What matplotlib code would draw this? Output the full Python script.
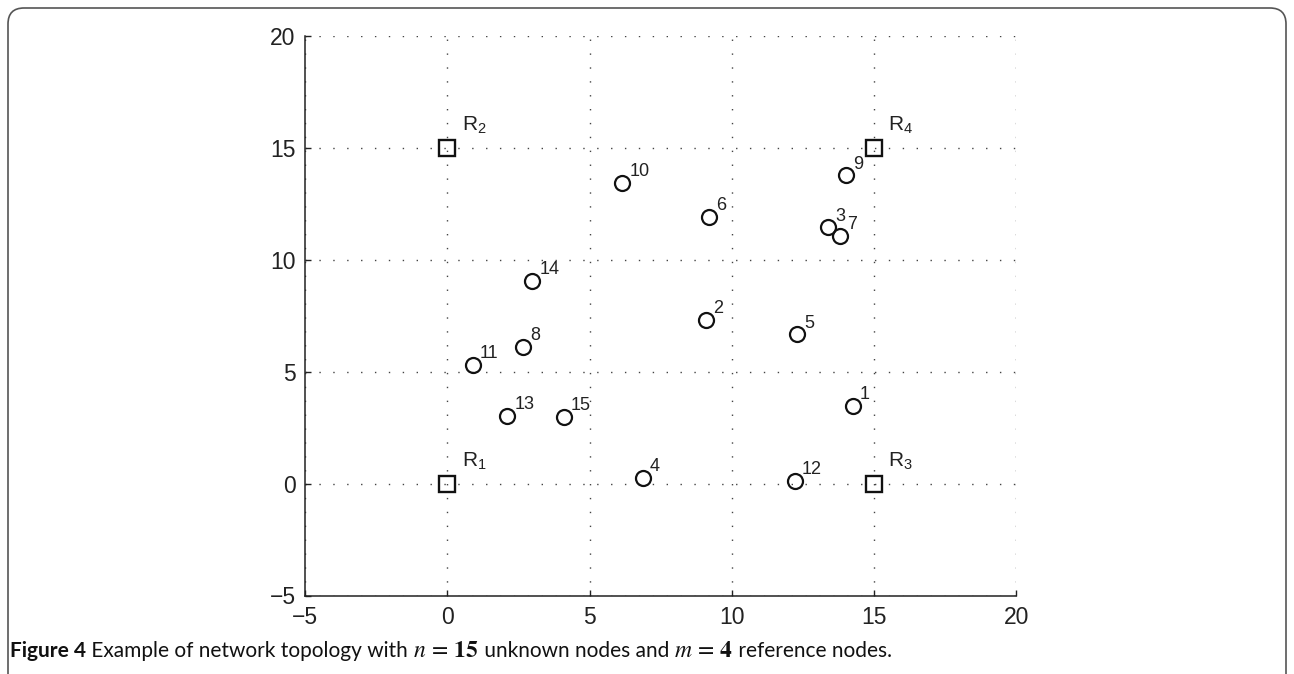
import matplotlib
matplotlib.use("Agg")
import matplotlib.pyplot as plt
from matplotlib.patches import FancyBboxPatch

# Unknown node coordinates (node id -> x, y)
node_ids = [1, 2, 3, 4, 5, 6, 7, 8, 9, 10, 11, 12, 13, 14, 15]
node_x = [14.26, 9.10, 13.38, 6.87, 12.29, 9.20, 13.82, 2.65, 14.02, 6.14, 0.88, 12.21, 2.10, 2.98, 4.09]
node_y = [3.46, 7.30, 11.44, 0.25, 6.67, 11.90, 11.05, 6.11, 13.77, 13.42, 5.29, 0.12, 3.02, 9.04, 2.98]

# Reference (anchor) nodes
ref_ids = [1, 2, 3, 4]
ref_x = [0, 0, 15, 15]
ref_y = [0, 15, 0, 15]

x_ticks = [-5, 0, 5, 10, 15, 20]
y_ticks = [-5, 0, 5, 10, 15, 20]

plt.rcParams["mathtext.fontset"] = "stix"

W, H = 1294, 674
fig = plt.figure(figsize=(W / 100, H / 100), dpi=100)

# Page frame with rounded corners
frame_ax = fig.add_axes([0, 0, 1, 1], zorder=-10)
frame_ax.set_xlim(0, W)
frame_ax.set_ylim(H, 0)
frame_ax.axis("off")
frame_ax.add_patch(FancyBboxPatch((8, 8), W - 16, H + 40,
                                  boxstyle="round,pad=0,rounding_size=16",
                                  fc="white", ec="#555555", lw=1.2))

ax = fig.add_axes([305.3 / W, 1 - 595.5 / H, (1016.2 - 305.3) / W, (595.5 - 35.8) / H])
ax.set_facecolor("none")
ax.set_xlim(-5, 20)
ax.set_ylim(-5, 20)
ax.set_xticks(x_ticks)
ax.set_yticks(y_ticks)
ax.set_xticklabels(["\u22125" if v < 0 else str(v) for v in x_ticks])
ax.set_yticklabels(["\u22125" if v < 0 else str(v) for v in y_ticks])

for s in ("top", "right"):
    ax.spines[s].set_visible(False)
for s in ("left", "bottom"):
    ax.spines[s].set_linewidth(1.1)
    ax.spines[s].set_color("#222222")

ax.tick_params(axis="both", direction="in", length=4, width=1.0, color="#222222",
               labelsize=16.5, labelcolor="#222222")
ax.tick_params(axis="x", pad=7.5)
ax.tick_params(axis="y", pad=7)
for lbl in ax.get_xticklabels() + ax.get_yticklabels():
    lbl.set_fontfamily("Liberation Sans")

ax.grid(True, linestyle=(0, (1, 9)), linewidth=1.0, color="#444444")

# Unknown nodes
ax.plot(node_x, node_y, linestyle="none", marker="o", markersize=10.8,
        markerfacecolor="none", markeredgecolor="#111111", markeredgewidth=1.6, zorder=3)
for i, x, y in zip(node_ids, node_x, node_y):
    ax.text(x + 0.25, y + 0.5, str(i), ha="left", va="center", fontsize=13,
            family="Liberation Sans", color="#222222", zorder=4)

# Reference nodes
ax.plot(ref_x, ref_y, linestyle="none", marker="s", markersize=12.2,
        markerfacecolor="none", markeredgecolor="#111111", markeredgewidth=1.7, zorder=3)
for i, x, y in zip(ref_ids, ref_x, ref_y):
    ax.text(x + 0.5, y + 1.0, r"$\mathregular{R_{%d}}$" % i, ha="left", va="center",
            fontsize=15, family="Liberation Sans", color="#222222", zorder=4)

# Caption assembled from bold label, plain text and math pieces
pieces = [
    ("Figure 4", dict(fontweight="bold", family="Lato")),
    (" Example of network topology with ", dict(family="Lato")),
    (r"$n\,=\,\mathbf{15}$", dict()),
    (" unknown nodes and ", dict(family="Lato")),
    (r"$m\,=\,\mathbf{4}$", dict()),
    (" reference nodes.", dict(family="Lato")),
]
fig.canvas.draw()
renderer = fig.canvas.get_renderer()
x_px = 10.0
base_y = 1 - 657.0 / H
for txt, kw in pieces:
    size = 17 if txt.startswith("$") else 15
    t = fig.text(x_px / W, base_y, txt, ha="left", va="baseline", fontsize=size,
                 color="#111111", **kw)
    bb = t.get_window_extent(renderer)
    x_px += bb.width

fig.savefig("out.png", dpi=100)
